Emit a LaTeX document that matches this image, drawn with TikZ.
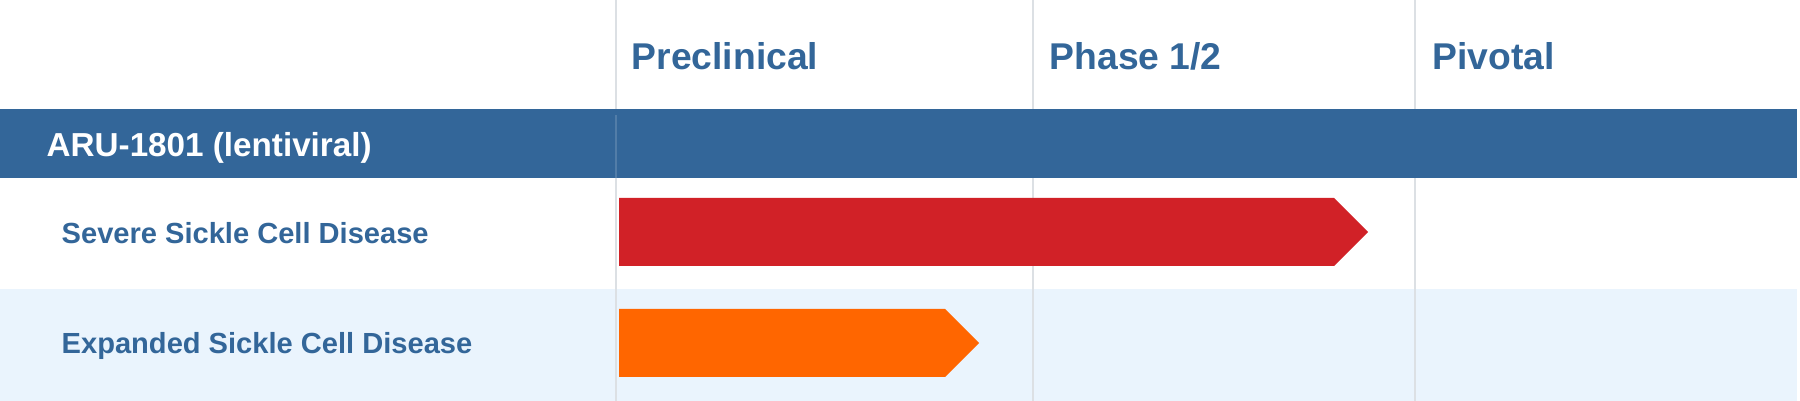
\documentclass[tikz,border=0pt]{standalone}
\usepackage{fontspec}
\setmainfont{Liberation Sans}
\usepackage{tikz}
\definecolor{band}{HTML}{336699}
\definecolor{ink}{HTML}{336699}
\definecolor{sevred}{HTML}{D12127}
\definecolor{exporange}{HTML}{FF6600}
\definecolor{rowtint}{HTML}{EAF4FD}
\definecolor{gridline}{HTML}{DCE0E4}

\begin{document}
\begin{tikzpicture}[x=0.01cm,y=-0.01cm,
  phase/.style={anchor=base west,inner sep=0pt,ink,font=\fontsize{10.6}{12}\selectfont\bfseries},
  drug/.style={anchor=base west,inner sep=0pt,white,font=\fontsize{9.45}{11}\selectfont\bfseries},
  indic/.style={anchor=base west,inner sep=0pt,ink,font=\fontsize{8.27}{10}\selectfont\bfseries}]
  \useasboundingbox (0,0) rectangle (1800,401);
  \fill[rowtint] (0,289) rectangle (1797,401);
  \foreach \x in {616,1033,1415} \draw[gridline,line width=0.35pt] (\x,0)--(\x,401);
  \fill[band] (0,109) rectangle (1797,178);
  \draw[band!85!white,line width=0.35pt] (616,115)--(616,178);
  % bars: start, shoulder, top, bottom
  \foreach \s/\e/\t/\b/\c in {619/1334/198/266/sevred,619/945/309/377/exporange}
    \fill[\c] (\s,\t)--(\e,\t)--({\e+(\b-\t)/2},{(\t+\b)/2})--(\e,\b)--(\s,\b)--cycle;
  \node[phase] (pre) at (631,70) {Preclinical};
  \node[phase] (ph12) at (1049,70) {Phase 1/2};
  \node[phase] (piv) at (1432,70) {Pivotal};
  \node[drug] (aru) at (46,157) {ARU-1801 (lentiviral)};
  \node[indic] (sev) at (61,244) {Severe Sickle Cell Disease};
  \node[indic] (exp) at (61,354) {Expanded Sickle Cell Disease};
\end{tikzpicture}
\end{document}
